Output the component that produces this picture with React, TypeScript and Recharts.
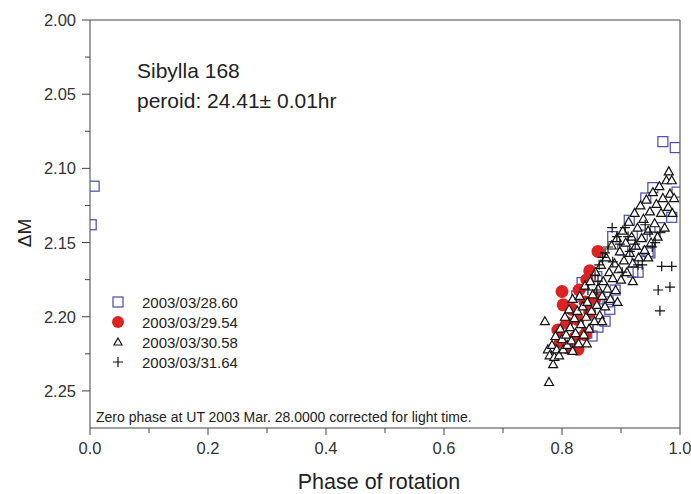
import React from "react";
import { ScatterChart, Scatter, XAxis, YAxis, ReferenceLine } from "recharts";

const seriesNames = ["2003/03/28.60", "2003/03/29.54", "2003/03/30.58", "2003/03/31.64"];
const xTicks = [0, 0.1, 0.2, 0.3, 0.4, 0.5, 0.6, 0.7, 0.8, 0.9, 1.0];
const yTicks = [2.0, 2.025, 2.05, 2.075, 2.1, 2.125, 2.15, 2.175, 2.2, 2.225, 2.25];

// [phase, dM]
const squares28 = [
  [0.007, 2.112], [0.002, 2.138], [0.971, 2.082], [0.992, 2.086], [0.954, 2.113], [0.995, 2.116],
  [0.942, 2.12], [0.914, 2.135], [0.986, 2.133], [0.966, 2.14], [0.886, 2.146], [0.936, 2.145],
  [0.949, 2.157], [0.903, 2.155], [0.927, 2.158], [0.946, 2.156], [0.929, 2.17], [0.92, 2.17],
  [0.859, 2.173], [0.834, 2.177], [0.878, 2.19], [0.881, 2.195], [0.873, 2.203], [0.861, 2.207],
  [0.842, 2.211], [0.851, 2.213], [0.844, 2.205], [0.864, 2.188], [0.89, 2.182], [0.825, 2.186],
];
const circles29 = [
  [0.861, 2.156], [0.847, 2.169], [0.842, 2.175], [0.8, 2.183], [0.829, 2.182], [0.802, 2.192],
  [0.817, 2.195], [0.839, 2.19], [0.793, 2.209], [0.808, 2.204], [0.827, 2.202], [0.847, 2.197],
  [0.797, 2.217], [0.81, 2.221], [0.827, 2.222], [0.822, 2.214], [0.839, 2.212], [0.856, 2.188],
];
const triangles30 = [
  [0.771, 2.203], [0.778, 2.244], [0.785, 2.232], [0.776, 2.222], [0.779, 2.226], [0.783, 2.219],
  [0.787, 2.227], [0.791, 2.222], [0.789, 2.213], [0.795, 2.226], [0.797, 2.208], [0.8, 2.215],
  [0.802, 2.222], [0.805, 2.2], [0.807, 2.212], [0.809, 2.219], [0.812, 2.195], [0.814, 2.207],
  [0.816, 2.216], [0.818, 2.188], [0.821, 2.201], [0.823, 2.211], [0.826, 2.196], [0.828, 2.218],
  [0.83, 2.186], [0.832, 2.205], [0.835, 2.193], [0.837, 2.212], [0.839, 2.179], [0.841, 2.2],
  [0.843, 2.19], [0.846, 2.208], [0.848, 2.176], [0.85, 2.196], [0.852, 2.185], [0.855, 2.203],
  [0.857, 2.17], [0.859, 2.192], [0.861, 2.181], [0.864, 2.199], [0.866, 2.165], [0.868, 2.186],
  [0.87, 2.176], [0.873, 2.193], [0.875, 2.16], [0.877, 2.181], [0.88, 2.17], [0.882, 2.188],
  [0.884, 2.152], [0.886, 2.174], [0.889, 2.164], [0.891, 2.182], [0.893, 2.147], [0.896, 2.168],
  [0.898, 2.156], [0.9, 2.175], [0.903, 2.142], [0.905, 2.162], [0.908, 2.15], [0.91, 2.17],
  [0.913, 2.136], [0.915, 2.157], [0.918, 2.146], [0.92, 2.164], [0.923, 2.13], [0.925, 2.152],
  [0.928, 2.14], [0.93, 2.16], [0.933, 2.125], [0.935, 2.147], [0.938, 2.134], [0.94, 2.155],
  [0.943, 2.121], [0.946, 2.142], [0.949, 2.129], [0.951, 2.15], [0.954, 2.116], [0.957, 2.137],
  [0.96, 2.124], [0.962, 2.146], [0.965, 2.112], [0.968, 2.13], [0.971, 2.12], [0.974, 2.14],
  [0.977, 2.108], [0.98, 2.126], [0.981, 2.102], [0.986, 2.108], [0.983, 2.117], [0.99, 2.12],
  [0.987, 2.13], [0.818, 2.223], [0.842, 2.218], [0.868, 2.203], [0.894, 2.19], [0.92, 2.176],
  [0.946, 2.16],
];
const pluses31 = [
  [0.861, 2.176], [0.859, 2.182], [0.869, 2.16], [0.873, 2.157], [0.863, 2.165], [0.886, 2.163],
  [0.893, 2.146], [0.898, 2.151], [0.912, 2.146], [0.924, 2.151], [0.929, 2.165], [0.936, 2.165],
  [0.953, 2.153], [0.958, 2.15], [0.969, 2.166], [0.986, 2.166], [0.963, 2.182], [0.983, 2.18],
  [0.966, 2.196], [0.885, 2.14], [0.907, 2.14], [0.941, 2.138], [0.949, 2.143], [0.966, 2.143],
  [0.878, 2.153], [0.915, 2.156], [0.902, 2.17], [0.856, 2.172], [0.844, 2.182],
];

const toPts = (arr: number[][]) => arr.map(([x, y]) => ({ x, y }));

const AXIS = "#444";
const FONT = "'Liberation Sans', Arial, sans-serif";

const Square = ({ cx, cy }: any) => (
  <rect x={cx - 5} y={cy - 5} width={10} height={10} fill="none" stroke="#4a4aa8" strokeWidth={1.2} />
);
const Dot = ({ cx, cy }: any) => <circle cx={cx} cy={cy} r={6.5} fill="#dc2222" />;
const Tri = ({ cx, cy }: any) => (
  <path d={`M${cx},${cy - 4.5}L${cx + 4.5},${cy + 3.5}L${cx - 4.5},${cy + 3.5}Z`} fill="#fff" stroke="#111" strokeWidth={1.2} />
);
const Plus = ({ cx, cy }: any) => (
  <path d={`M${cx - 5},${cy}H${cx + 5}M${cx},${cy - 5}V${cy + 5}`} stroke="#111" strokeWidth={1.2} />
);

const YTick = ({ x, y, payload }: any) => {
  const major = Math.round(payload.value * 1000) % 50 === 0;
  return (
    <g>
      <line x1={x - (major ? 8 : 5)} x2={x} y1={y} y2={y} stroke={AXIS} />
      {major && (
        <text x={x - 14} y={y} dy={6} textAnchor="end" fontSize={16.5} fill="#333" fontFamily={FONT}>
          {payload.value.toFixed(2)}
        </text>
      )}
    </g>
  );
};

const XTick = ({ x, y, payload }: any) => {
  const major = Math.round(payload.value * 10) % 2 === 0;
  return (
    <g>
      <line x1={x} x2={x} y1={y} y2={y + (major ? 7 : 5)} stroke={AXIS} />
      {major && (
        <text x={x} y={y + 26} textAnchor="middle" fontSize={16.5} fill="#333" fontFamily={FONT}>
          {payload.value.toFixed(1)}
        </text>
      )}
    </g>
  );
};

const legendMarks = [
  <rect x={3} y={3} width={10} height={10} fill="none" stroke="#4a4aa8" strokeWidth={1.2} />,
  <circle cx={8} cy={8} r={6} fill="#dc2222" />,
  <path d="M8,4L12,11L4,11Z" fill="#fff" stroke="#111" strokeWidth={1.2} />,
  <path d="M3,8H13M8,3V13" stroke="#111" strokeWidth={1.2} />,
];

export default function App() {
  return (
    <div style={{ position: "absolute", left: 0, top: 0, width: 691, height: 494, background: "#fff", fontFamily: FONT, color: "#222" }}>
      <ScatterChart width={691} height={494} margin={{ top: 20, right: 11, left: 30, bottom: 36 }}>
        <XAxis type="number" dataKey="x" domain={[0, 1]} ticks={xTicks} tick={<XTick />} tickLine={false}
          tickSize={0} tickMargin={0} stroke={AXIS} height={30} interval={0} allowDataOverflow />
        <YAxis type="number" dataKey="y" domain={[2.0, 2.275]} ticks={yTicks} tick={<YTick />} tickLine={false}
          tickSize={0} tickMargin={0} stroke={AXIS} width={60} reversed interval={0} allowDataOverflow />
        <ReferenceLine y={2.0} stroke={AXIS} />
        <ReferenceLine x={1.0} stroke={AXIS} />
        <Scatter data={toPts(squares28)} shape={<Square />} isAnimationActive={false} />
        <Scatter data={toPts(circles29)} shape={<Dot />} isAnimationActive={false} />
        <Scatter data={toPts(triangles30)} shape={<Tri />} isAnimationActive={false} />
        <Scatter data={toPts(pluses31)} shape={<Plus />} isAnimationActive={false} />
      </ScatterChart>

      <div style={{ position: "absolute", left: 137, top: 56, fontSize: 21, lineHeight: "30px" }}>
        <div>Sibylla 168</div>
        <div>peroid: 24.41± 0.01hr</div>
      </div>

      <div style={{ position: "absolute", left: 110, top: 292 }}>
        {seriesNames.map((name, i) => (
          <div key={name} style={{ display: "flex", alignItems: "center", height: 20 }}>
            <svg width={16} height={16} style={{ marginRight: 16 }}>{legendMarks[i]}</svg>
            <span style={{ fontSize: 15 }}>{name}</span>
          </div>
        ))}
      </div>

      <div style={{ position: "absolute", left: 96, top: 409, fontSize: 14 }}>
        Zero phase at UT 2003 Mar. 28.0000 corrected for light time.
      </div>

      <div style={{ position: "absolute", left: 0, width: 758, top: 470, textAlign: "center", fontSize: 21.5 }}>
        Phase of rotation
      </div>

      <div style={{ position: "absolute", left: 25, top: 233, transform: "translate(-50%, -50%) rotate(-90deg)", fontSize: 19 }}>
        ΔM
      </div>
    </div>
  );
}
